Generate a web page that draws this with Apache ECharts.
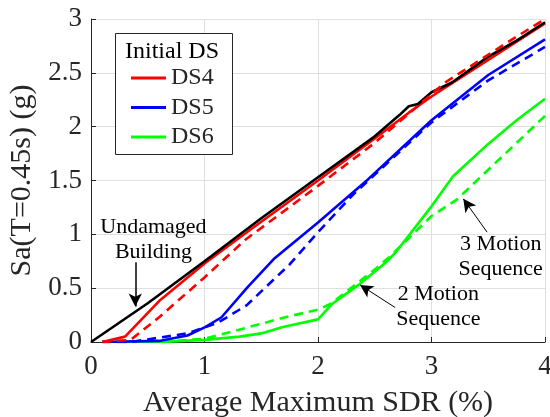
<!DOCTYPE html>
<html>
<head>
<meta charset="utf-8">
<script src="https://cdn.jsdelivr.net/npm/echarts/dist/echarts.min.js"></script>
<style>
  html, body { margin: 0; padding: 0; background: #ffffff; }
  #chart { width: 550px; height: 417px; }
</style>
</head>
<body>
<div id="chart"></div>
<script>
// Average maximum story drift ratio (%) vs. spectral acceleration Sa(T=0.45s) (g)

// Undamaged building
const undamagedX = [0, 0.5, 1.0, 1.5, 2.0, 2.5, 2.72, 2.8, 2.88, 3.0, 3.18, 3.5, 3.75, 4.0];
const undamagedY = [0, 0.36, 0.75, 1.15, 1.53, 1.91, 2.11, 2.19, 2.21, 2.32, 2.41, 2.65, 2.80, 2.97];

// Initial DS4: 2-motion (solid) and 3-motion (dashed) sequences
const ds4TwoX = [0.1, 0.3, 0.6, 1.0, 1.4, 2.0, 2.5, 2.8, 3.0, 3.5, 4.0];
const ds4TwoY = [0, 0.05, 0.38, 0.73, 1.04, 1.50, 1.89, 2.13, 2.28, 2.62, 2.96];
const ds4ThreeX = [0.1, 0.35, 0.6, 1.0, 1.36, 2.0, 2.5, 2.8, 3.12, 3.4, 3.68, 4.0];
const ds4ThreeY = [0, 0.02, 0.23, 0.60, 0.95, 1.45, 1.85, 2.12, 2.41, 2.60, 2.79, 3.00];

// Initial DS5
const ds5TwoX = [0.1, 0.6, 0.85, 1.01, 1.15, 1.38, 1.61, 2.0, 2.44, 3.0, 3.5, 4.0];
const ds5TwoY = [0, 0.01, 0.06, 0.14, 0.23, 0.51, 0.77, 1.11, 1.51, 2.06, 2.48, 2.81];
const ds5ThreeX = [0.1, 0.35, 0.85, 1.12, 1.37, 1.75, 2.0, 2.31, 3.0, 3.5, 4.0];
const ds5ThreeY = [0, 0, 0.08, 0.18, 0.34, 0.72, 1.02, 1.37, 2.04, 2.43, 2.74];

// Initial DS6
const ds6TwoX = [0.1, 0.6, 1.0, 1.31, 1.5, 1.69, 2.0, 2.12, 2.37, 2.6, 2.69, 3.0, 3.19, 3.5, 3.75, 4.0];
const ds6TwoY = [0, 0, 0.02, 0.05, 0.08, 0.14, 0.21, 0.35, 0.54, 0.74, 0.84, 1.26, 1.54, 1.84, 2.06, 2.26];
const ds6ThreeX = [0.1, 0.6, 1.0, 1.22, 1.5, 1.75, 2.0, 2.12, 2.52, 2.65, 3.0, 3.22, 3.5, 4.0];
const ds6ThreeY = [0, 0, 0.03, 0.09, 0.17, 0.24, 0.30, 0.36, 0.69, 0.81, 1.17, 1.32, 1.60, 2.10];

const legendNames = ['DS4', 'DS5', 'DS6'];
const legendTitle = 'Initial DS';
const xTitle = 'Average Maximum SDR (%)';
const yTitle = 'Sa(T=0.45s) (g)';

// Callout texts with their anchor (data coords) and arrow [from, to] in data coords
const notes = [
  { text: 'Undamaged\nBuilding', at: [0.55, 0.95], arrow: [[0.39, 0.74], [0.39, 0.33]], width: 1.5 },
  { text: '2 Motion\nSequence', at: [3.06, 0.33], arrow: [[2.68, 0.32], [2.37, 0.53]], width: 1 },
  { text: '3 Motion\nSequence', at: [3.61, 0.79], arrow: [[3.49, 1.02], [3.28, 1.33]], width: 1 }
];

const FONT = '"Liberation Serif", "Times New Roman", serif';
const AXIS_COLOR = '#262626';

function pairs(xs, ys) { return xs.map((x, i) => [x, ys[i]]); }

function lineSeries(name, xs, ys, color, dashed, z) {
  return {
    name: name,
    type: 'line',
    data: pairs(xs, ys),
    symbol: 'none',
    showSymbol: false,
    color: color,
    lineStyle: { color: color, width: 2.6, type: dashed ? [9, 6] : 'solid' },
    z: z,
    animation: false,
    silent: true
  };
}

const chart = echarts.init(document.getElementById('chart'), null, { renderer: 'canvas' });

const arrowSeries = {
  name: 'callouts',
  type: 'line',
  data: [],
  symbol: 'none',
  z: 6,
  animation: false,
  markLine: {
    silent: true,
    animation: false,
    symbol: ['none', 'arrow'],
    symbolSize: [10, 13],
    label: { show: false },
    data: notes.map(n => [
      { coord: n.arrow[0], lineStyle: { color: '#000', width: n.width, type: 'solid' } },
      { coord: n.arrow[1] }
    ])
  }
};

chart.setOption({
  backgroundColor: '#ffffff',
  animation: false,
  textStyle: { fontFamily: FONT },
  grid: { left: 91, right: 5, top: 19, bottom: 75, containLabel: false, outerBoundsMode: 'none' },
  xAxis: {
    type: 'value', min: 0, max: 4, interval: 1,
    name: xTitle, nameLocation: 'middle', nameGap: 46,
    nameTextStyle: { fontFamily: FONT, fontSize: 30, color: AXIS_COLOR },
    axisLine: { show: true, onZero: false, lineStyle: { color: AXIS_COLOR, width: 1 } },
    axisTick: { show: true, inside: true, length: 5, lineStyle: { color: AXIS_COLOR } },
    axisLabel: { fontFamily: FONT, fontSize: 27, color: AXIS_COLOR, margin: 11 },
    splitLine: { show: true, lineStyle: { color: '#dfdfdf', width: 1 } }
  },
  yAxis: {
    type: 'value', min: 0, max: 3, interval: 0.5,
    name: yTitle, nameLocation: 'middle', nameGap: 40,
    nameTextStyle: { fontFamily: FONT, fontSize: 30, color: AXIS_COLOR },
    axisLine: { show: true, onZero: false, lineStyle: { color: AXIS_COLOR, width: 1 } },
    axisTick: { show: true, inside: true, length: 5, lineStyle: { color: AXIS_COLOR } },
    axisLabel: { fontFamily: FONT, fontSize: 27, color: AXIS_COLOR, margin: 9 },
    splitLine: { show: true, lineStyle: { color: '#dfdfdf', width: 1 } }
  },
  legend: {
    data: legendNames,
    orient: 'vertical',
    left: 131, top: 66,
    padding: 0,
    icon: 'rect',
    itemWidth: 35, itemHeight: 3,
    itemGap: 5.5,
    itemTextGap: 4,
    selectedMode: false,
    textStyle: { fontFamily: FONT, fontSize: 24, color: AXIS_COLOR, lineHeight: 24 },
    z: 8
  },
  series: [
    lineSeries('DS6', ds6TwoX, ds6TwoY, '#00ff00', false, 2),
    lineSeries('DS6 3-motion', ds6ThreeX, ds6ThreeY, '#00ff00', true, 2),
    lineSeries('DS5', ds5TwoX, ds5TwoY, '#0000ff', false, 2),
    lineSeries('DS5 3-motion', ds5ThreeX, ds5ThreeY, '#0000ff', true, 2),
    lineSeries('DS4', ds4TwoX, ds4TwoY, '#ff0000', false, 2),
    lineSeries('Undamaged', undamagedX, undamagedY, '#000000', false, 3),
    lineSeries('DS4 3-motion', ds4ThreeX, ds4ThreeY, '#ff0000', true, 3),
    arrowSeries
  ]
});

// Legend frame, legend heading and callout texts
const graphics = [
  {
    type: 'rect', z: 7, silent: true,
    shape: { x: 115.5, y: 33.5, width: 117, height: 121 },
    style: { fill: '#ffffff', stroke: AXIS_COLOR, lineWidth: 1 }
  },
  {
    type: 'text', z: 9, silent: true, x: 172, y: 52,
    style: { text: legendTitle, fontFamily: FONT, fontSize: 24, fill: '#000', align: 'center', verticalAlign: 'middle' }
  }
];
notes.forEach(n => {
  const p = chart.convertToPixel({ gridIndex: 0 }, n.at);
  graphics.push({
    type: 'text', z: 9, silent: true, x: p[0], y: p[1],
    style: { text: n.text, fontFamily: FONT, fontSize: 22, lineHeight: 25, fill: '#000', align: 'center', verticalAlign: 'middle' }
  });
});
chart.setOption({ graphic: graphics });
</script>
</body>
</html>
